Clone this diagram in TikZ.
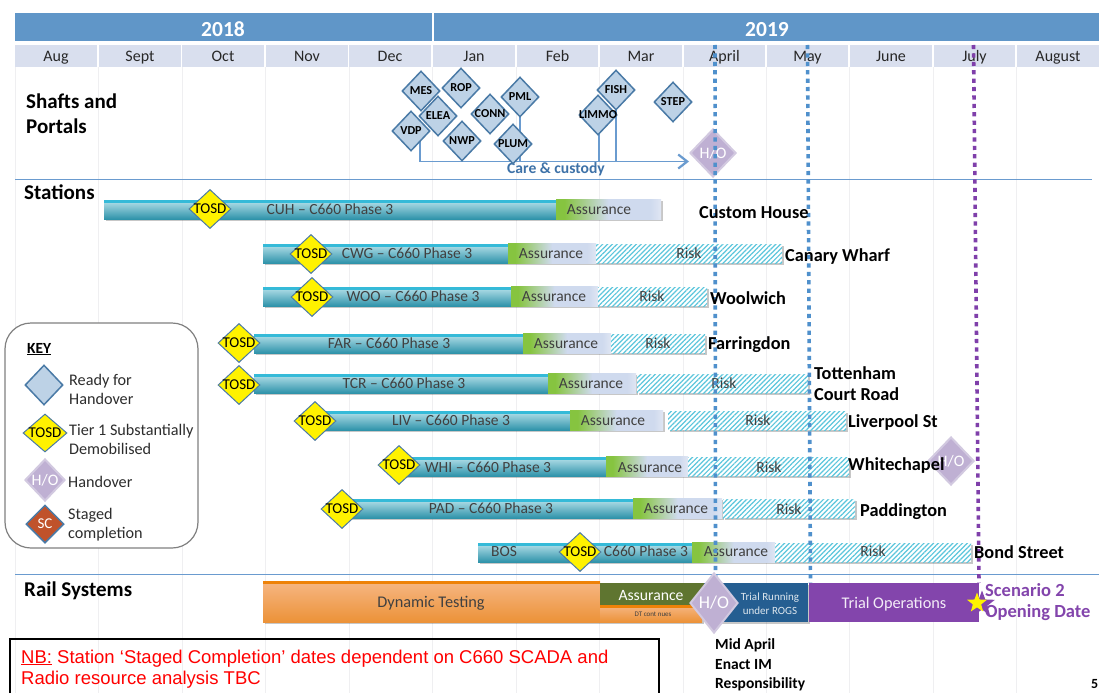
\documentclass[tikz,border=0pt]{standalone}
\usepackage{fontspec}
\setmainfont{Carlito}
\newfontfamily\nbfont{Liberation Sans}
\usetikzlibrary{shapes.geometric,patterns.meta,shadows,arrows.meta}
\definecolor{yearblue}{HTML}{6096C8}
\definecolor{monthbg}{HTML}{D9DFEE}
\definecolor{gridc}{HTML}{EFEFF1}
\definecolor{hline}{HTML}{6A9BCF}
\definecolor{diaedge}{HTML}{4A7AA6}
\definecolor{diafill}{HTML}{BDD2E6}
\definecolor{hofill}{HTML}{BFB0D3}
\definecolor{hoedge}{HTML}{D2C9E0}
\definecolor{scfill}{HTML}{C0522B}
\definecolor{tealtop}{HTML}{35BAD8}
\definecolor{teallt}{HTML}{B8E2EB}
\definecolor{tealdk}{HTML}{2F93AA}
\definecolor{hatch}{HTML}{5CC6DC}
\definecolor{labgrey}{HTML}{404040}
\definecolor{carecol}{HTML}{3E72A8}
\definecolor{dotblue}{HTML}{4F90CC}
\definecolor{dotpurple}{HTML}{7F3FAA}
\definecolor{purplebar}{HTML}{8345AC}
\definecolor{navybar}{HTML}{255E91}
\definecolor{olivebar}{HTML}{5F7530}
\definecolor{orangetop}{HTML}{EE8208}
\definecolor{orangelt}{HTML}{F6B784}
\definecolor{orangedk}{HTML}{EC9238}
\definecolor{assgreen}{HTML}{86C440}
\definecolor{asslav}{HTML}{CFDAEE}
\definecolor{asslt}{HTML}{E0E6F3}
\pgfdeclarehorizontalshading{assur}{100bp}{color(0bp)=(assgreen);color(25bp)=(assgreen);color(29bp)=(assgreen);color(50bp)=(asslav);color(70bp)=(asslav);color(75bp)=(asslt);color(100bp)=(asslt)}
\tikzset{
  x=1pt,y=-1pt,
  monthcell/.style={fill=monthbg,draw=none},
  yearcell/.style={fill=yearblue,draw=none},
  gridline/.style={draw=gridc,line width=1pt},
  sectionline/.style={draw=hline,line width=1.1pt},
  shadowed/.style={drop shadow={shadow xshift=1.5pt,shadow yshift=-2pt,opacity=.22,fill=black}},
  dia/.style={shape=diamond,inner sep=0pt,aspect=1},
  readydia/.style={dia,fill=diafill,draw=diaedge,line width=1.5pt,minimum width=38pt,minimum height=40pt},
  tosddia/.style={dia,fill=yellow,draw=diaedge,line width=1pt,minimum width=42pt,minimum height=39pt},
  hodia/.style={dia,fill=hofill,draw=hoedge,line width=2pt,minimum width=46pt,minimum height=48pt},
  scdia/.style={dia,fill=scfill,draw=diaedge,line width=1.5pt,minimum width=38pt,minimum height=38pt},
  dialab/.style={font=\fontsize{12.2}{12}\selectfont\bfseries,text=black,inner sep=0pt},
  tosdlab/.style={font=\fontsize{15}{15}\selectfont,text=black,inner sep=0pt},
  holab/.style={font=\fontsize{16}{16}\selectfont,text=white,inner sep=0pt},
  barlab/.style={font=\fontsize{15.5}{15}\selectfont,text=labgrey,inner sep=0pt,text height=.66em,text depth=.2em,yshift=-2.5pt},
  stn/.style={font=\fontsize{18.3}{21}\selectfont\bfseries,text=black,inner sep=0pt,anchor=west,align=left},
  sect/.style={font=\fontsize{21}{25}\selectfont\bfseries,text=black,inner sep=0pt,anchor=west,align=left},
  keytext/.style={font=\fontsize{16.2}{19}\selectfont,text=labgrey!70!black,inner sep=0pt,anchor=west,align=left},
  dotted blue/.style={draw=dotblue,line width=3.6pt,dash pattern=on 4.2pt off 4.2pt},
  dotted purple/.style={draw=dotpurple,line width=3.6pt,dash pattern=on 4.2pt off 4.2pt},
  conn/.style={draw=hline,line width=1.8pt},
  railtxt/.style={font=\fontsize{16.3}{16}\selectfont,inner sep=0pt},
}
% name, style, x, y, label style, label
\newcommand{\dmd}[6]{\node[#2] (#1) at (#3,#4) {}; \node[#5] (#1-t) at (#1) {#6};}
\newcommand{\rd}[4]{\dmd{#1}{readydia}{#2}{#3}{dialab}{#4}}
\newcommand{\tsd}[3]{\dmd{#1}{tosddia}{#2}{#3}{tosdlab}{TOSD}}
% y top, x0, x1, x2 : main bar then assurance
\newcommand{\mainbar}[4]{%
  \fill[shadowed,top color=teallt,bottom color=tealdk] (#2,#1) rectangle (#3,#1+19);
  \fill[tealtop] (#2,#1) rectangle (#3,#1+3);
  \shade[shading=assur,shading angle=0,drop shadow={shadow xshift=1.5pt,shadow yshift=-2pt,opacity=.22,fill=black}] (#3,#1-1) rectangle (#4,#1+19);
}
% y top, x0, x1
\newcommand{\riskbar}[3]{%
  \fill[white,shadowed] (#2,#1) rectangle (#3,#1+19);
  \fill[pattern={Lines[angle=45,distance=3.4pt,line width=1.2pt]},pattern color=hatch] (#2,#1) rectangle (#3,#1+19);
}
\begin{document}
\begin{tikzpicture}
\useasboundingbox (0,0) rectangle (1099,693);
\fill[white] (0,0) rectangle (1099,693);
% grid
\foreach \gx in {15,98,182,265,349,432,516,599,683,766,849,933,1016}
  \draw[gridline] (\gx,67) -- (\gx,693);
% header
\fill[yearcell] (15,13) rectangle (431.5,41);
\fill[yearcell] (433.5,13) rectangle (1099,41);
\node[font=\fontsize{21.5}{20}\selectfont\bfseries,text=white,inner sep=0pt] (y18) at (223,29.5) {2018};
\node[font=\fontsize{21.5}{20}\selectfont\bfseries,text=white,inner sep=0pt] (y19) at (767,29.5) {2019};
\foreach \xa/\xb/\m/\id in {15/97/Aug/a,99/181/Sept/b,182/264/Oct/c,266/348/Nov/d,349/431/Dec/e,433/515/Jan/f,517/598/Feb/g,600/682/Mar/h,684/765/April/i,767/848/May/j,850/932/June/k,934/1015/July/l,1017/1099/August/m}{
  \fill[monthcell] (\xa,45) rectangle (\xb,67);
  \node[font=\fontsize{16}{15}\selectfont,text=labgrey!60!black,inner sep=0pt,text height=.66em,text depth=.2em] (m\id) at ({(\xa+\xb)/2},59.5) {\m};
}
% section lines
\draw[sectionline] (15,179.5) -- (1092,179.5);
\draw[sectionline] (15,574.5) -- (1099,574.5);
% section titles
\node[sect] (shafts) at (26,114) {Shafts and\\Portals};
\node[sect] (stations) at (24,192.5) {Stations};
\node[sect] (rail) at (24,590.5) {Rail Systems};
% shafts connectors
\dmd{hoa}{hodia}{713}{153}{holab}{H/O}
\coordinate (c0) at (420,140);
\coordinate (c1) at (420,161.5);
\coordinate (c2) at (520,100);
\coordinate (c3) at (520,161.5);
\coordinate (c4) at (599,120);
\coordinate (c5) at (599,161.5);
\coordinate (c6) at (616,95);
\coordinate (c7) at (616,161.5);
\coordinate (c8) at (hoa.west |- c1);
\draw[conn,-{Straight Barb[length=9pt,width=14pt,line width=2.2pt]}] (c0) -- (c1) -- (c8);
\draw[conn] (c2) -- (c3);
\draw[conn] (c4) -- (c5);
\draw[conn] (c6) -- (c7);
\node[font=\fontsize{15.6}{14}\selectfont\bfseries,text=carecol,inner sep=0pt] (care) at (556,169) {Care \& custody};
\rd{mes}{421}{91}{MES}
\rd{vdp}{411}{131}{VDP}
\rd{rop}{461}{88}{ROP}
\rd{pml}{520}{97}{PML}
\rd{conn}{490}{114}{CONN}
\rd{elea}{438}{116}{ELEA}
\rd{nwp}{462}{141}{NWP}
\rd{plum}{513}{144}{PLUM}
\rd{fish}{616}{90}{FISH}
\rd{limmo}{598}{115}{LIMMO}
\rd{stepm}{673}{102}{STEP}
% station bars
\mainbar{200}{104}{556}{661}
\node[barlab] (cuh) at (330,210) {CUH – C660 Phase 3};
\node[barlab] (cuha) at (599,210) {Assurance};
\tsd{cuht}{210}{209}

\mainbar{244}{263}{508}{596}
\riskbar{244}{596}{782}
\node[barlab] (cwg) at (407,254) {CWG – C660 Phase 3};
\node[barlab] (cwga) at (551,254) {Assurance};
\node[barlab] (cwgr) at (689,254) {Risk};
\tsd{cwgt}{311}{254}

\mainbar{287}{263}{511}{598}
\riskbar{287}{598}{707}
\node[barlab] (woo) at (413,297) {WOO – C660 Phase 3};
\node[barlab] (wooa) at (554,297) {Assurance};
\node[barlab] (woor) at (652,297) {Risk};
\tsd{woot}{312}{297}

\mainbar{334}{254}{523}{611}
\riskbar{334}{611}{705}
\node[barlab] (far) at (389,344) {FAR – C660 Phase 3};
\node[barlab] (fara) at (566,344) {Assurance};
\node[barlab] (farr) at (658,344) {Risk};
\tsd{fart}{239}{343}

\mainbar{374}{254}{548}{636}
\riskbar{374}{637}{808}
\node[barlab] (tcr) at (404,384) {TCR – C660 Phase 3};
\node[barlab] (tcra) at (591,384) {Assurance};
\node[barlab] (tcrr) at (724,384) {Risk};
\tsd{tcrt}{239}{385}

\mainbar{411}{314}{570}{663}
\riskbar{411}{668}{846}
\node[barlab] (liv) at (451,421) {LIV – C660 Phase 3};
\node[barlab] (liva) at (613,421) {Assurance};
\node[barlab] (livr) at (758,421) {Risk};
\tsd{livt}{315}{421}

\mainbar{457}{400}{606}{688}
\riskbar{457}{688}{849}
\node[barlab] (whi) at (488,468) {WHI – C660 Phase 3};
\node[barlab] (whia) at (650,468) {Assurance};
\node[barlab] (whir) at (769,468) {Risk};
\tsd{whit}{399}{465}

\mainbar{499}{342}{633}{722}
\riskbar{499}{723}{855}
\node[barlab] (pad) at (491,509) {PAD – C660 Phase 3};
\node[barlab] (pada) at (676,509) {Assurance};
\node[barlab] (padr) at (789,510) {Risk};
\tsd{padt}{342}{509}

\mainbar{543}{478}{692}{775}
\riskbar{543}{775}{971}
\node[barlab] (bos) at (504,552) {BOS};
\node[barlab] (bosb) at (646,552) {C660 Phase 3};
\node[barlab] (bosa) at (736,552) {Assurance};
\node[barlab] (bosr) at (873,552) {Risk};
\tsd{bost}{580}{552}

% dotted lines
\coordinate (da1) at (715,45);
\coordinate (da2) at (715.5,577);
\coordinate (db1) at (807.5,45);
\coordinate (db2) at (810.5,583);
\coordinate (dc1) at (973.5,45);
\coordinate (dc2) at (979,583);
\draw[dotted blue] (da1) -- (da2);
\draw[dotted blue] (db1) -- (db2);
\draw[dotted purple] (dc1) -- (dc2);
% station names
\dmd{hob}{hodia}{951}{461}{holab}{H/O}
\node[stn] (ncuh) at (699,213) {Custom House};
\node[stn] (ncwg) at (785,256.5) {Canary Wharf};
\node[stn] (nwoo) at (710,298) {Woolwich};
\node[stn] (nfar) at (708,344.5) {Farringdon};
\node[stn] (ntcr) at (814,384) {Tottenham\\Court Road};
\node[stn] (nliv) at (848,422.5) {Liverpool St};
\node[stn] (nwhi) at (848,466) {Whitechapel};
\node[stn] (npad) at (860,511.5) {Paddington};
\node[stn] (nbos) at (974,552) {Bond Street};
% rail systems
\fill[shadowed,top color=orangelt,bottom color=orangedk] (263,581) rectangle (600,622);
\fill[orangetop] (263,581) rectangle (600,584);
\node[railtxt,text=labgrey] (dyn) at (431,603) {Dynamic Testing};
\fill[shadowed,top color=orangelt,bottom color=orangedk] (600,605) rectangle (702,622);
\fill[orangetop] (600,605) rectangle (702,608);
\fill[olivebar] (600,583) rectangle (704,605);
\node[railtxt,font=\fontsize{15.7}{16}\selectfont,text=white] (raila) at (651,596) {Assurance};
\node[font=\fontsize{7}{7}\selectfont,text=labgrey,inner sep=0pt] (dtc) at (653,614) {DT cont nues};
\fill[shadowed,navybar] (704,583) rectangle (808,622);
\node[font=\fontsize{11}{13.5}\selectfont,text=white!85!navybar,align=center,inner sep=0pt] (trr) at (770,603.5) {Trial Running\\under ROGS};
\fill[purplebar] (808.5,583) rectangle (979,622);
\node[railtxt,text=white!90!purplebar] (trop) at (894,604) {Trial Operations};
\dmd{hoc}{hodia,minimum width=48pt,minimum height=60pt}{714}{603}{holab,font=\fontsize{18}{18}\selectfont}{H/O}
\node[star,star points=5,star point ratio=2.4,fill=purplebar,inner sep=0pt,minimum size=27pt] (starb) at (982,604) {};
\node[star,star points=5,star point ratio=2.4,fill=yellow,inner sep=0pt,minimum size=21pt] (stara) at (977,603) {};
\node[font=\fontsize{18.5}{21}\selectfont\bfseries,text=purplebar,inner sep=0pt,anchor=west,align=left] (scen) at (985,602) {Scenario 2\\Opening Date};
\node[font=\fontsize{15.5}{19.5}\selectfont\bfseries,text=black,inner sep=0pt,anchor=north west,align=left] (mid) at (715,638.5) {Mid April\\Enact IM\\Responsibility};
% key
\draw[draw=black!50,line width=1.2pt,fill=white,rounded corners=26pt] (5,323) rectangle (198,548);
\node[font=\fontsize{15.5}{15}\selectfont\bfseries,text=black,inner sep=0pt,anchor=west] (key) at (27,349) {\underline{KEY}};
\node[readydia] (k1) at (44,385) {};
\node[keytext] (k1t) at (69,389.5) {Ready for\\Handover};
\dmd{k2}{tosddia,minimum width=44pt,minimum height=38pt}{45}{433}{tosdlab}{TOSD}
\node[keytext] (k2t) at (69,439.5) {Tier 1 Substantially\\Demobilised};
\dmd{k3}{hodia,minimum width=40pt,minimum height=42pt}{45}{480}{holab}{H/O}
\node[keytext] (k3t) at (68,482) {Handover};
\dmd{k4}{scdia}{45}{524}{font=\fontsize{15}{15}\selectfont,text=white,inner sep=0pt}{SC}
\node[keytext] (k4t) at (68,525) {Staged\\completion};
% note box
\draw[draw=black,line width=1.2pt] (10,693) -- (10,639) -- (659,639) -- (659,693);
\node[font={\nbfont\fontsize{18.5}{21}\selectfont},text=red,inner sep=0pt,anchor=north west,align=left] (nb) at (21,649.5) {\underline{NB:} Station ‘Staged Completion’ dates dependent on C660 SCADA and\\Radio resource analysis TBC};
\node[font=\fontsize{14}{14}\selectfont\bfseries,text=black,inner sep=0pt,anchor=west] (pg) at (1091,684) {5};
\end{tikzpicture}
\end{document}
